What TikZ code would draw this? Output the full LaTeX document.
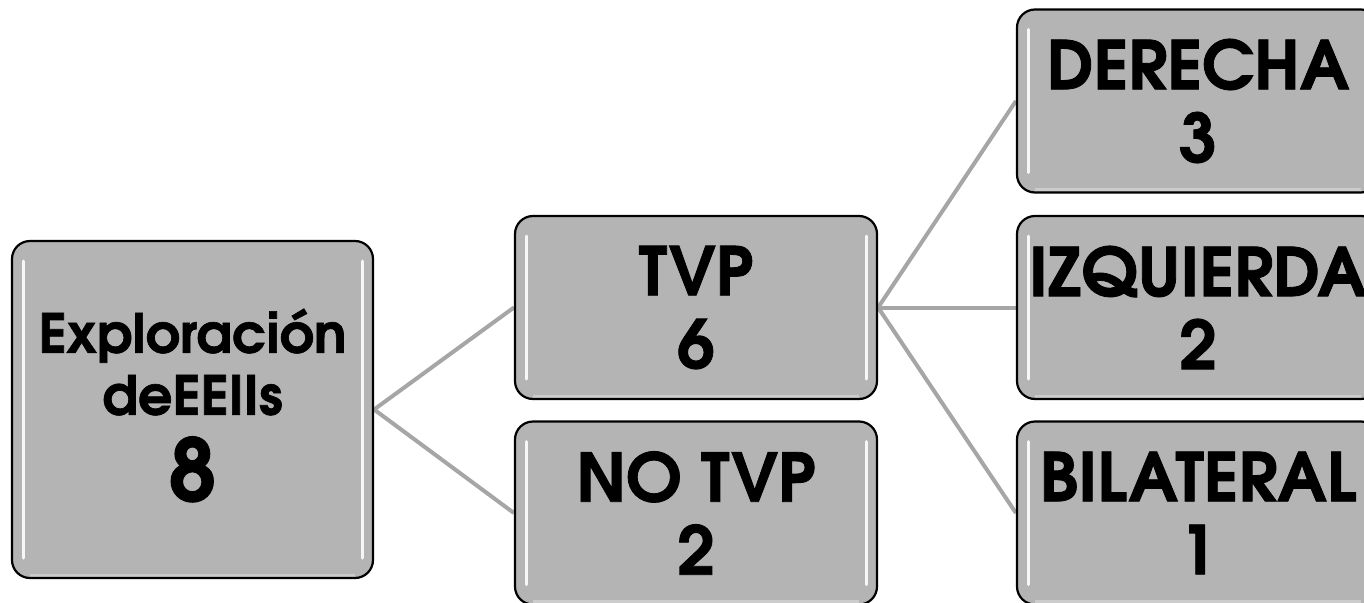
\documentclass[tikz,border=0pt]{standalone}
\usepackage{fontspec}
\setmainfont{TeX Gyre Adventor}[BoldFeatures={FakeBold=1.2}]
\usetikzlibrary{backgrounds}
\definecolor{boxgray}{RGB}{180,180,180}
\definecolor{linkgray}{RGB}{166,166,166}
\tikzset{
  box/.style={draw=black, line width=2.2pt, fill=boxgray, rounded corners=18pt,
    minimum width=362pt, minimum height=183pt, inner sep=0pt, align=center,
    font=\bfseries\fontsize{67}{73}\selectfont,
    path picture={
      \draw[white, line width=3pt, line cap=round, opacity=0.9]
        ([xshift=11pt,yshift=-20pt]path picture bounding box.north west) --
        ([xshift=11pt,yshift=20pt]path picture bounding box.south west);
      \draw[white, line width=3pt, line cap=round, opacity=0.9]
        ([xshift=-11pt,yshift=-20pt]path picture bounding box.north east) --
        ([xshift=-11pt,yshift=20pt]path picture bounding box.south east);
      \draw[gray!40, line width=3pt]
        ([xshift=18pt,yshift=3pt]path picture bounding box.south west) --
        ([xshift=-18pt,yshift=3pt]path picture bounding box.south east);
    }},
  link/.style={draw=linkgray, line width=4pt}
}
\begin{document}
\begin{tikzpicture}[x=1pt,y=1pt]
\useasboundingbox (0,0) rectangle (1364,-602);
\clip (0,0) rectangle (1364,-602);
\node[box, minimum width=361pt, minimum height=337pt,
  font=\bfseries\fontsize{54}{62}\selectfont] (root) at (192.5,-409.5)
  {\\[-26pt]Exploración\\deEEIIs\\[20pt]{\fontsize{86}{86}\selectfont 8}};
\node[box] (tvp) at (696,-307.5) {TVP\\6};
\node[box] (notvp) at (696,-513) {NO TVP\\2};
\node[box] (der) at (1198,-101) {DERECHA\\3};
\node[box] (izq) at (1198,-307.5) {IZQUIERDA\\2};
\node[box] (bil) at (1198,-513) {BILATERAL\\1};
\begin{scope}[on background layer]
\draw[link] (root.east) -- (tvp.west);
\draw[link] (root.east) -- (notvp.west);
\draw[link] (tvp.east) -- (der.west);
\draw[link] (tvp.east) -- (izq.west);
\draw[link] (tvp.east) -- (bil.west);
\end{scope}
\end{tikzpicture}
\end{document}
